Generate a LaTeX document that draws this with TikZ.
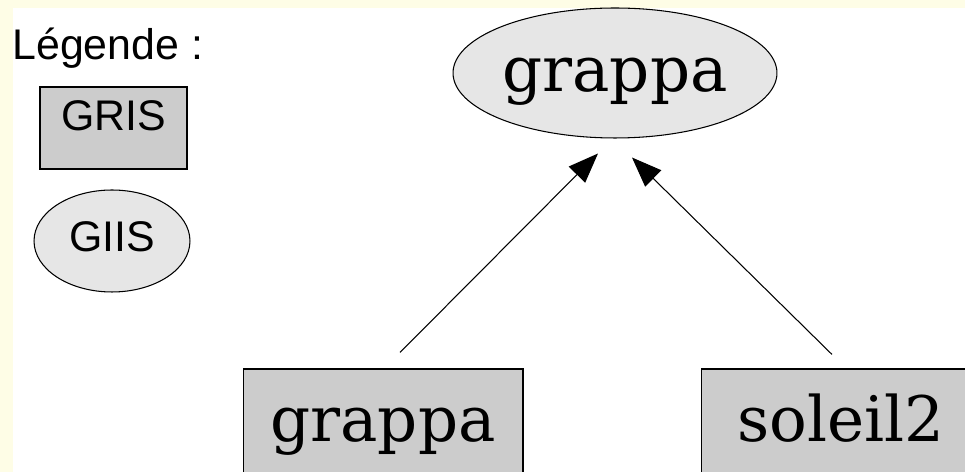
\documentclass[tikz,border=0pt]{standalone}
\usepackage{fontspec}
\setmainfont{DejaVu Serif}
\newfontfamily\legendfont{Liberation Sans}
\usetikzlibrary{shapes.geometric,arrows.meta,calc}
\definecolor{pagebg}{RGB}{254,253,230}
\definecolor{grisfill}{RGB}{204,204,204}
\definecolor{giisfill}{RGB}{230,230,230}
\tikzset{
  gris/.style={draw,fill=grisfill,line width=0.6pt,inner sep=0pt},
  giis/.style={ellipse,draw,fill=giisfill,line width=0.6pt,inner sep=0pt},
  host/.style={font=\fontsize{35.7}{40}\selectfont,text height=1.08cm,text depth=0.32cm},
  leg/.style={font=\legendfont\fontsize{24.4}{28}\selectfont},
  lien/.style={line width=0.6pt,-{Triangle[length=17pt,width=13pt]}}
}

\begin{document}
\begin{tikzpicture}[x=0.02cm,y=-0.02cm]
\useasboundingbox (0,0) rectangle (965,472);
\fill[pagebg] (0,0) rectangle (965,472);
\fill[white] (13,8) rectangle (965,472);

\node[leg,anchor=base west,inner sep=0pt] (legende) at (12,60) {Légende :};
\node[gris,leg,minimum width=2.94cm,minimum height=1.64cm,text height=0.62cm,text depth=0.5cm] (lgris) at (113.5,128) {GRIS};
\node[giis,leg,minimum width=3.12cm,minimum height=2.04cm,text height=0.62cm,text depth=0.18cm] (lgiis) at (112,241) {GIIS};

\node[giis,host,minimum width=6.48cm,minimum height=2.6cm] (haut) at (615,73) {grappa};
\node[gris,host,minimum width=5.6cm,minimum height=2.16cm] (bas1) at (383,423) {grappa};
\node[gris,host,minimum width=5.6cm,minimum height=2.16cm] (bas2) at (841,423) {soleil2};

\coordinate (q1) at ($(bas1.north)+(17,-16)$);
\coordinate (p1) at ($(haut.south)+(-17,15)$);
\coordinate (q2) at ($(bas2.north)+(-9,-14)$);
\coordinate (p2) at ($(haut.south)+(17,19)$);
\draw[lien] (q1) -- (p1);
\draw[lien] (q2) -- (p2);
\end{tikzpicture}
\end{document}
